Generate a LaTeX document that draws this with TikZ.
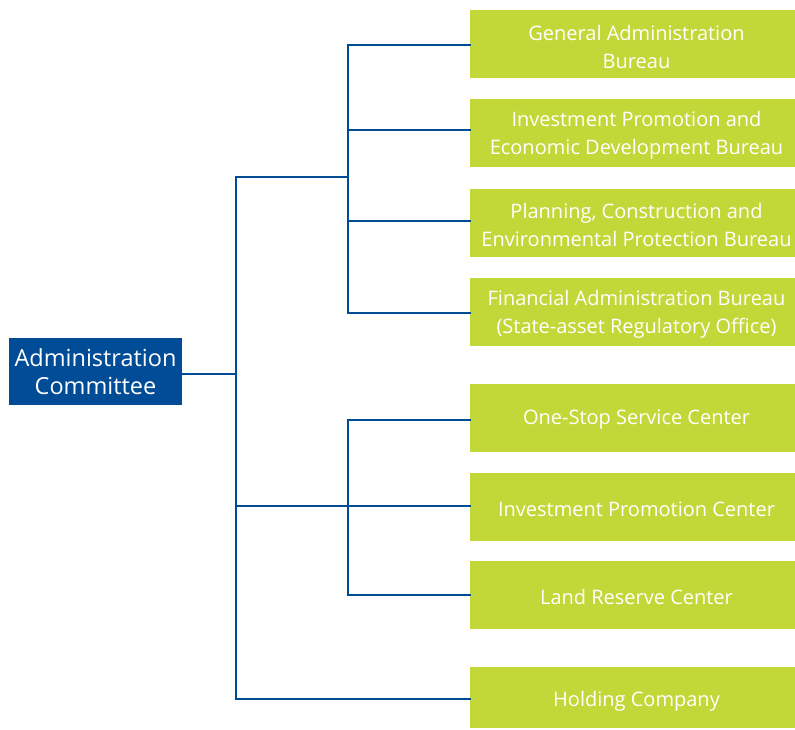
\documentclass[tikz,border=0pt]{standalone}
\usepackage{fontspec}
\setmainfont{Open Sans}
\definecolor{orgblue}{RGB}{0,76,151}
\definecolor{orggreen}{RGB}{194,216,56}
\begin{document}
\begin{tikzpicture}[x=1pt,y=-1pt,
  unitbox/.style={fill=orggreen, minimum width=325pt, inner sep=0pt},
  unittext/.style={text=white, align=center, inner sep=0pt,
    font=\fontsize{20}{28}\selectfont},
  headbox/.style={fill=orgblue, text=white, align=center, minimum width=173pt,
    minimum height=67pt, inner sep=0pt, font=\fontsize{23.5}{28}\selectfont},
  conn/.style={draw=orgblue, line width=2.8pt, line cap=rect}]
\useasboundingbox (0,0) rectangle (795,729);
\node[headbox] (adm) at (95.5,371.5) {Administration\\Committee};
\node[unitbox, minimum height=67.5pt] (g1) at (632.5,43.8) {};
\node[unitbox, minimum height=67.5pt] (g2) at (632.5,132.8) {};
\node[unitbox, minimum height=67.5pt] (g3) at (632.5,222.8) {};
\node[unitbox, minimum height=67.5pt] (g4) at (632.5,311.8) {};
\node[unitbox, minimum height=67.5pt] (g5) at (632.5,417.8) {};
\node[unitbox, minimum height=68pt] (g6) at (632.5,506.8) {};
\node[unitbox, minimum height=67.5pt] (g7) at (632.5,594.8) {};
\node[unitbox, minimum height=61.5pt] (g8) at (632.5,697.5) {};
\node[unittext] (t1) at ([xshift=4pt,yshift=-3pt]g1.center) {General Administration\\Bureau};
\node[unittext] (t2) at ([xshift=4pt,yshift=-2.5pt]g2.center) {Investment Promotion and\\Economic Development Bureau};
\node[unittext] (t3) at ([xshift=4pt,yshift=-2.5pt]g3.center) {Planning, Construction and\\Environmental Protection Bureau};
\node[unittext] (t4) at ([xshift=4pt,yshift=-2.5pt]g4.center) {Financial Administration Bureau\\(State-asset Regulatory Office)};
\node[unittext] (t5) at ([xshift=4pt,yshift=-2pt]g5.center) {One-Stop Service Center};
\node[unittext] (t6) at ([xshift=4pt,yshift=-2pt]g6.center) {Investment Promotion Center};
\node[unittext] (t7) at ([xshift=4pt,yshift=-2pt]g7.center) {Land Reserve Center};
\node[unittext] (t8) at ([xshift=4pt,yshift=-4pt]g8.center) {Holding Company};
% junction coordinates
\coordinate (tTop) at (236,177);
\coordinate (tMid) at (236,374);
\coordinate (tLow) at (236,506);
\coordinate (tBot) at (236,699);
\coordinate (uMid) at (348,177);
\coordinate (u1) at (348,45);
\coordinate (u2) at (348,130);
\coordinate (u3) at (348,221);
\coordinate (u4) at (348,313);
\coordinate (l5) at (348,420);
\coordinate (l7) at (348,595);
% connectors
\draw[conn] (adm.east |- tMid) -- (tMid);
\draw[conn] (tTop) -- (tBot);
\draw[conn] (tTop) -- (uMid);
\draw[conn] (u1) -- (u4);
\draw[conn] (u1) -- (u1 -| g1.west);
\draw[conn] (u2) -- (u2 -| g2.west);
\draw[conn] (u3) -- (u3 -| g3.west);
\draw[conn] (u4) -- (u4 -| g4.west);
\draw[conn] (l5) -- (l7);
\draw[conn] (tLow) -- (tLow -| g6.west);
\draw[conn] (l5) -- (l5 -| g5.west);
\draw[conn] (l7) -- (l7 -| g7.west);
\draw[conn] (tBot) -- (tBot -| g8.west);
\end{tikzpicture}
\end{document}
